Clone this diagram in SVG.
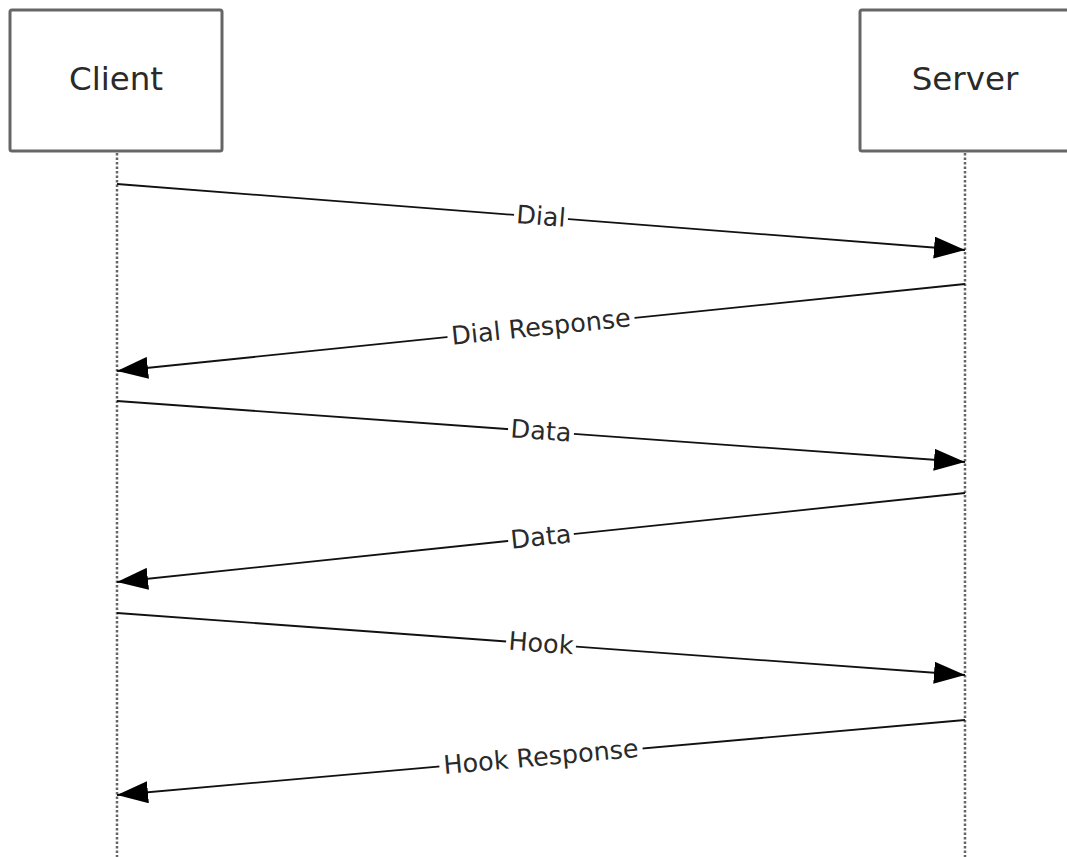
<svg xmlns="http://www.w3.org/2000/svg" width="1067" height="857" viewBox="0 0 1067 857">
<defs>
<style>
.box{fill:#fff;stroke:#666;stroke-width:3}
.head{font-family:"DejaVu Sans",Verdana,sans-serif;font-size:32.5px;fill:#2a2a2a;text-anchor:middle}
.life{stroke:#666;stroke-width:2.5;stroke-dasharray:2.5,2;fill:none}
.msg{stroke:#111;stroke-width:1.8;fill:none;marker-end:url(#arr)}
.lbl{font-family:"DejaVu Sans",Verdana,sans-serif;font-size:25.5px;fill:#2a2a2a;text-anchor:middle}
.bg{fill:#fff}
</style>
<marker id="arr" markerUnits="userSpaceOnUse" markerWidth="32" markerHeight="22" refX="31" refY="11" orient="auto">
<path d="M0,0 L31,11 L0,22 Z" fill="#000"/>
</marker>
</defs>
<g id="client">
<rect class="box" x="10" y="10" width="212" height="141" rx="2"/>
<text class="head" x="116" y="90">Client</text>
</g>
<g id="server">
<rect class="box" x="860" y="10" width="212" height="141" rx="2"/>
<text class="head" x="965" y="90">Server</text>
</g>
<g id="connectors">
<line class="life" x1="117" y1="153" x2="117" y2="857"/>
<line class="life" x1="965" y1="153" x2="965" y2="857"/>
<line class="msg" x1="117" y1="184" x2="965" y2="250"/>
<line class="msg" x1="965" y1="284" x2="117" y2="371"/>
<line class="msg" x1="117" y1="401" x2="965" y2="462"/>
<line class="msg" x1="965" y1="493" x2="117" y2="582"/>
<line class="msg" x1="117" y1="613" x2="965" y2="675"/>
<line class="msg" x1="965" y1="720" x2="117" y2="795"/>
<g transform="translate(541,217) rotate(4.45)"><rect class="bg" x="-27" y="-14" width="54" height="26"/><text class="lbl" y="8">Dial</text></g>
<g transform="translate(541,327.5) rotate(-5.86)"><rect class="bg" x="-94" y="-14" width="188" height="26"/><text class="lbl" y="8">Dial Response</text></g>
<g transform="translate(541,431.5) rotate(4.11)"><rect class="bg" x="-33" y="-14" width="66" height="26"/><text class="lbl" y="8">Data</text></g>
<g transform="translate(541,537.5) rotate(-5.99)"><rect class="bg" x="-33" y="-14" width="66" height="26"/><text class="lbl" y="8">Data</text></g>
<g transform="translate(541,644) rotate(4.18)"><rect class="bg" x="-35" y="-14" width="70" height="26"/><text class="lbl" y="8">Hook</text></g>
<g transform="translate(541,757.5) rotate(-5.05)"><rect class="bg" x="-102" y="-14" width="204" height="26"/><text class="lbl" y="8">Hook Response</text></g>
</g>
</svg>
